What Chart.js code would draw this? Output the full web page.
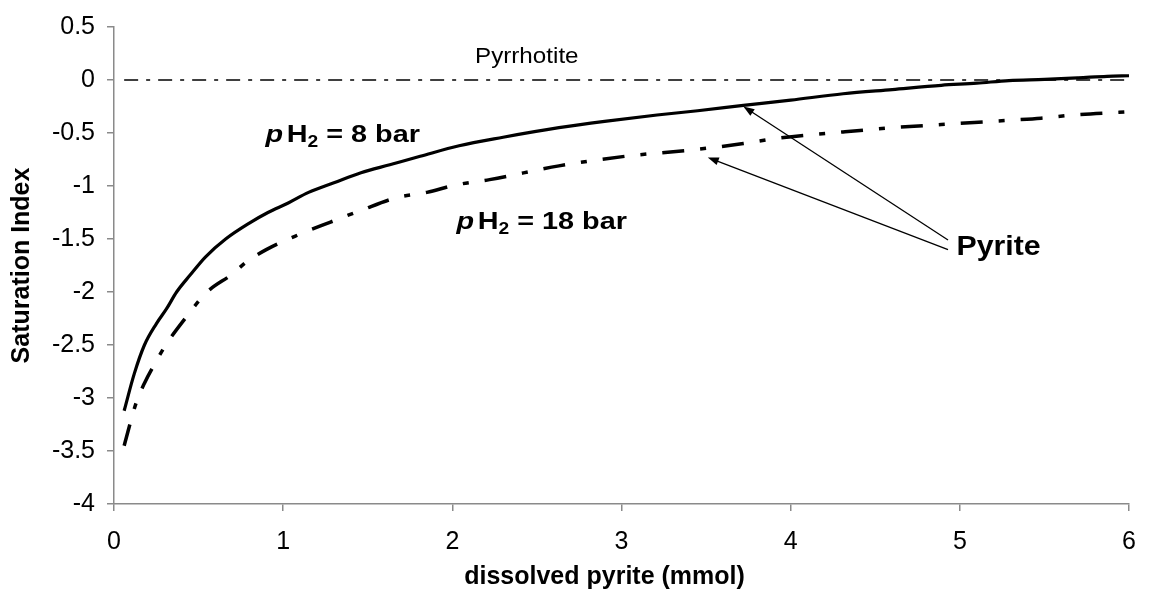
<!DOCTYPE html>
<html>
<head>
<meta charset="utf-8">
<script src="https://cdn.jsdelivr.net/npm/chart.js@4"></script>
<style>
  html, body { margin: 0; padding: 0; background: #fff; }
  #box { width: 1152px; height: 590px; }
</style>
</head>
<body>
<div id="box"><canvas id="siChart"></canvas></div>
<script>
// saturation index of pyrite vs dissolved pyrite, two H2 pressures
const pyrite8X = [0.06, 0.12, 0.18, 0.25, 0.31, 0.37, 0.45, 0.54, 0.66, 0.80, 0.91, 1.03, 1.15, 1.30,
  1.46, 1.63, 1.81, 2.04, 2.30, 2.63, 2.90, 3.21, 3.45, 3.72, 4.00, 4.31, 4.60, 4.89, 5.10, 5.29,
  5.50, 5.70, 5.87, 6.00];
const pyrite8Y = [-3.12, -2.77, -2.50, -2.30, -2.16, -2.00, -1.84, -1.67, -1.50, -1.35, -1.25, -1.16, -1.06, -0.97,
  -0.875, -0.80, -0.72, -0.62, -0.54, -0.45, -0.39, -0.33, -0.29, -0.24, -0.19, -0.13, -0.09, -0.05, -0.03, -0.005,
  0.005, 0.02, 0.035, 0.04];

const pyrite18X = [0.06, 0.13, 0.18, 0.24, 0.31, 0.43, 0.55, 0.70, 0.78, 0.90, 1.09, 1.28, 1.46, 1.67,
  1.85, 2.02, 2.22, 2.63, 3.02, 3.41, 3.72, 3.92, 4.31, 4.60, 4.89, 5.29, 5.48, 5.67, 6.00];
const pyrite18Y = [-3.45, -3.05, -2.86, -2.68, -2.49, -2.23, -2.00, -1.83, -1.72, -1.60, -1.46, -1.34, -1.23, -1.11,
  -1.06, -0.99, -0.94, -0.81, -0.72, -0.66, -0.60, -0.55, -0.49, -0.45, -0.42, -0.38, -0.36, -0.33, -0.30];

// pyrrhotite equilibrium line
const pyrrhotiteX = [0.06, 6];
const pyrrhotiteY = [0, 0];

const xTicks = [0, 1, 2, 3, 4, 5, 6];
const yTicks = [0.5, 0, -0.5, -1, -1.5, -2, -2.5, -3, -3.5, -4];

// annotation anchors (data units)
const pyriteLabel = { x: 4.98, y: -1.65 };
const arrowTips = [[3.72, -0.25], [3.51, -0.73]];
const arrowTails = [[4.93, -1.51], [4.93, -1.60]];
const pressureLabels = [
  { text: "8", x: 0.896, y: -0.585 },
  { text: "18", x: 2.025, y: -1.41 }
];
const pyrrhotiteLabel = { x: 2.44, y: 0.163 };

const FONT = '"Liberation Sans", Arial, sans-serif';

function toPoints(xs, ys) {
  return xs.map((x, i) => ({ x: x, y: ys[i] }));
}

// text drawn a little wider than the font, like the old spreadsheet export
function wideText(ctx, text, x, y, sx) {
  ctx.save();
  ctx.translate(x, y);
  ctx.scale(sx, 1);
  ctx.fillText(text, 0, 0);
  ctx.restore();
}

function drawArrow(ctx, x1, y1, x2, y2) {
  // line from (x1,y1) to tip at (x2,y2)
  const ang = Math.atan2(y2 - y1, x2 - x1);
  const len = 11, half = 4;
  ctx.beginPath();
  ctx.moveTo(x1, y1);
  ctx.lineTo(x2 - Math.cos(ang) * len * 0.8, y2 - Math.sin(ang) * len * 0.8);
  ctx.stroke();
  ctx.beginPath();
  ctx.moveTo(x2, y2);
  ctx.lineTo(x2 - Math.cos(ang) * len + Math.sin(ang) * half, y2 - Math.sin(ang) * len - Math.cos(ang) * half);
  ctx.lineTo(x2 - Math.cos(ang) * len - Math.sin(ang) * half, y2 - Math.sin(ang) * len + Math.cos(ang) * half);
  ctx.closePath();
  ctx.fill();
}

function drawPressure(ctx, x, y, value) {
  ctx.save();
  ctx.translate(x, y);
  ctx.scale(1.2, 1);
  let cx = 0;
  ctx.font = 'italic bold 24px ' + FONT;
  ctx.fillText("p", cx, 0);
  cx += ctx.measureText("p").width + 3;
  ctx.font = 'bold 24px ' + FONT;
  ctx.fillText("H", cx, 0);
  cx += ctx.measureText("H").width;
  ctx.font = 'bold 16px ' + FONT;
  ctx.fillText("2", cx, 5);
  cx += ctx.measureText("2").width;
  ctx.font = 'bold 24px ' + FONT;
  ctx.fillText(" = " + value + " bar", cx, 0);
  ctx.restore();
}

const annotations = {
  id: "annotations",
  afterDatasetsDraw(chart) {
    const ctx = chart.ctx;
    const xs = chart.scales.x;
    const ys = chart.scales.y;
    const area = chart.chartArea;
    ctx.save();
    ctx.fillStyle = "#000";
    ctx.strokeStyle = "#000";
    ctx.textBaseline = "alphabetic";

    ctx.font = '22px ' + FONT;
    ctx.textAlign = "center";
    wideText(ctx, "Pyrrhotite", xs.getPixelForValue(pyrrhotiteLabel.x), ys.getPixelForValue(pyrrhotiteLabel.y), 1.1);

    // x axis title, sits a bit left of the plot centre
    ctx.font = 'bold 25px ' + FONT;
    ctx.textBaseline = "middle";
    ctx.fillText("dissolved pyrite (mmol)", (area.left + area.right) / 2 - 17, chart.height - 13);
    ctx.textBaseline = "alphabetic";

    ctx.textAlign = "left";
    pressureLabels.forEach((l) => {
      drawPressure(ctx, xs.getPixelForValue(l.x), ys.getPixelForValue(l.y), l.text);
    });

    ctx.font = 'bold 27px ' + FONT;
    wideText(ctx, "Pyrite", xs.getPixelForValue(pyriteLabel.x), ys.getPixelForValue(pyriteLabel.y), 1.12);

    ctx.lineWidth = 1.3;
    arrowTips.forEach((tip, i) => {
      const tail = arrowTails[i];
      drawArrow(ctx,
        xs.getPixelForValue(tail[0]), ys.getPixelForValue(tail[1]),
        xs.getPixelForValue(tip[0]), ys.getPixelForValue(tip[1]));
    });
    ctx.restore();
  }
};

const axisGrey = "#8a8a8a";

const ctx = document.getElementById("siChart").getContext("2d");
const siChart = new Chart(ctx, {
  type: "line",
  data: {
    datasets: [
      {
        label: "pH2 = 8 bar",
        data: toPoints(pyrite8X, pyrite8Y),
        borderColor: "#000",
        borderWidth: 3.2,
        pointRadius: 0,
        cubicInterpolationMode: "monotone",
        fill: false
      },
      {
        label: "pH2 = 18 bar",
        data: toPoints(pyrite18X, pyrite18Y),
        borderColor: "#000",
        borderWidth: 3.5,
        borderDash: [22, 16, 6, 16],
        pointRadius: 0,
        cubicInterpolationMode: "monotone",
        fill: false
      },
      {
        label: "Pyrrhotite",
        data: toPoints(pyrrhotiteX, pyrrhotiteY),
        borderColor: "#000",
        borderWidth: 1.6,
        borderDash: [14, 8, 4, 8],
        pointRadius: 0,
        fill: false
      }
    ]
  },
  options: {
    responsive: true,
    maintainAspectRatio: false,
    animation: false,
    devicePixelRatio: 1,
    layout: { padding: { top: 23, right: 13, left: 0, bottom: 0 } },
    plugins: {
      legend: { display: false },
      tooltip: { enabled: false }
    },
    scales: {
      x: {
        type: "linear",
        min: 0,
        max: 6,
        afterBuildTicks: (scale) => { scale.ticks = xTicks.map((v) => ({ value: v })); },
        afterFit: (scale) => { scale.height = 86; },
        grid: { drawOnChartArea: false, color: axisGrey, tickLength: 7, lineWidth: 1.5 },
        border: { color: axisGrey, width: 1.5 },
        ticks: {
          color: "#000",
          padding: 16,
          maxRotation: 0,
          font: { family: FONT, size: 25 },
          callback: (v) => String(v)
        },
        title: { display: false }
      },
      y: {
        type: "linear",
        min: -4,
        max: 0.5,
        afterBuildTicks: (scale) => { scale.ticks = yTicks.map((v) => ({ value: v })); },
        afterFit: (scale) => { scale.width = 114; },
        grid: { drawOnChartArea: false, color: axisGrey, tickLength: 7, lineWidth: 1.5 },
        border: { color: axisGrey, width: 1.5 },
        ticks: {
          color: "#000",
          padding: 12,
          font: { family: FONT, size: 25 },
          callback: (v) => String(v)
        },
        title: {
          display: true,
          text: "Saturation Index",
          color: "#000",
          padding: { top: 9.5, bottom: 0 },
          font: { family: FONT, size: 25, weight: "bold", lineHeight: 1 }
        }
      }
    }
  },
  plugins: [annotations]
});
</script>
</body>
</html>
